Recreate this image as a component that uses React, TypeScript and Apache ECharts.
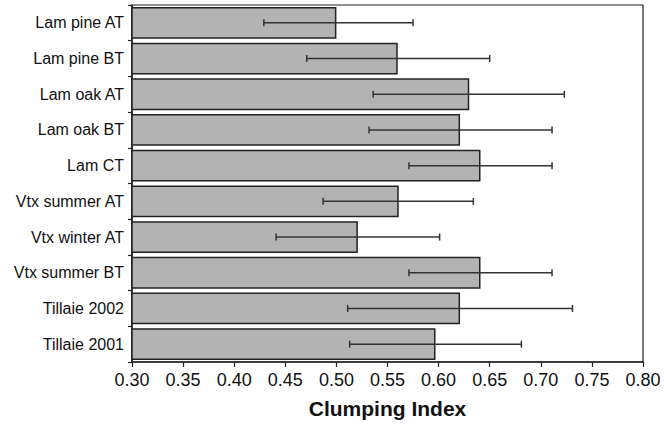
import React, { useEffect, useRef } from "react";
import * as echarts from "echarts";

const categories = [
  "Lam pine AT",
  "Lam pine BT",
  "Lam oak AT",
  "Lam oak BT",
  "Lam CT",
  "Vtx summer AT",
  "Vtx winter AT",
  "Vtx summer BT",
  "Tillaie 2002",
  "Tillaie 2001",
];
const values = [0.50, 0.56, 0.63, 0.621, 0.641, 0.561, 0.521, 0.641, 0.621, 0.597];
const errLow = [0.429, 0.471, 0.536, 0.532, 0.571, 0.487, 0.441, 0.571, 0.511, 0.513];
const errHigh = [0.575, 0.65, 0.723, 0.711, 0.711, 0.634, 0.601, 0.711, 0.731, 0.681];
const xTicks = { min: 0.3, max: 0.8, interval: 0.05 };

export default function App() {
  const ref = useRef<HTMLDivElement>(null);
  useEffect(() => {
    if (!ref.current) return;
    const chart = echarts.init(ref.current, null, { renderer: "svg" });
    const errData = categories.map((_, i) => [i, errLow[i], errHigh[i]]);
    chart.setOption({
      animation: false,
      backgroundColor: "#ffffff",
      textStyle: { fontFamily: "Liberation Sans, Arial, sans-serif" },
      grid: {
        left: 132,
        right: 21,
        top: 5,
        bottom: 64,
        show: true,
        borderColor: "#222",
        borderWidth: 1.2,
        backgroundColor: "transparent",
      },
      xAxis: {
        type: "value",
        min: xTicks.min,
        max: xTicks.max,
        interval: xTicks.interval,
        axisLine: { show: true, lineStyle: { color: "#222", width: 1.5 } },
        axisTick: { show: true, length: 5, lineStyle: { color: "#222", width: 1.2 } },
        axisLabel: {
          fontSize: 18,
          color: "#111",
          margin: 9,
          formatter: (v: number) => v.toFixed(2),
        },
        splitLine: { show: false },
        name: "Clumping Index",
        nameLocation: "middle",
        nameGap: 36,
        nameTextStyle: { fontSize: 21, fontWeight: "bold", color: "#111" },
      },
      yAxis: {
        type: "category",
        data: categories,
        inverse: true,
        axisLine: { show: true, lineStyle: { color: "#222", width: 1.5 } },
        axisTick: { show: true, length: 4, lineStyle: { color: "#222", width: 1.2 } },
        axisLabel: { fontSize: 16, color: "#111", margin: 8 },
        splitLine: { show: false },
      },
      series: [
        {
          type: "bar",
          data: values,
          barWidth: "89%",
          itemStyle: { color: "#b3b3b3", borderColor: "#222", borderWidth: 1.5 },
        },
        {
          type: "custom",
          data: errData,
          encode: { x: [1, 2], y: 0 },
          z: 10,
          renderItem: (params: any, api: any) => {
            const cat = api.value(0);
            const lo = api.coord([api.value(1), cat]);
            const hi = api.coord([api.value(2), cat]);
            const h = 3.5;
            const style = { stroke: "#333", lineWidth: 1.5 };
            return {
              type: "group",
              children: [
                { type: "line", shape: { x1: lo[0], y1: lo[1], x2: hi[0], y2: hi[1] }, style },
                { type: "line", shape: { x1: lo[0], y1: lo[1] - h, x2: lo[0], y2: lo[1] + h }, style },
                { type: "line", shape: { x1: hi[0], y1: hi[1] - h, x2: hi[0], y2: hi[1] + h }, style },
              ],
            };
          },
        },
      ],
    });
    return () => chart.dispose();
  }, []);
  return (
    <div
      ref={ref}
      style={{ position: "fixed", left: 0, top: 0, width: 664, height: 426 }}
    />
  );
}
